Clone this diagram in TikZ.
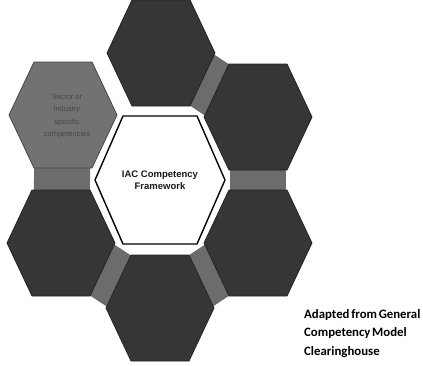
\documentclass[tikz,border=0pt]{standalone}
\usepackage{fontspec}
\setmainfont{Liberation Sans}
\newfontfamily\notefont[WordSpace={0.6}]{Carlito}
\usepackage{xcolor}
\definecolor{cHexDark}{HTML}{363636}
\definecolor{cHexEdge}{HTML}{242424}
\definecolor{cHexGrey}{HTML}{727272}
\definecolor{cBand}{HTML}{6C6C6C}
\definecolor{cFaint}{HTML}{474747}
\usepackage{tikz}
\usetikzlibrary{positioning}

\begin{document}
\begin{tikzpicture}[
    x=1pt, y=-1pt,
    darkhex/.style={fill=cHexDark, draw=cHexEdge, line width=0.8pt, line join=round},
    greyhex/.style={fill=cHexGrey, draw=cFaint, line width=0.8pt, line join=round},
    corehex/.style={fill=white, draw=black, line width=1.4pt, line join=round},
    band/.style={draw=cBand, line width=56pt},
    coretext/.style={align=center, inner sep=0pt, text=black!90,
                     font=\fontsize{9.5}{11.5}\selectfont\bfseries},
    hextext/.style={align=center, inner sep=0pt, text=cFaint,
                    font=\fontsize{7.5}{12.5}\selectfont},
    note/.style={align=left, inner sep=0pt, anchor=north west,
                 font=\notefont\fontsize{12.8}{18.5}\selectfont\bfseries}
]
\useasboundingbox (0,0) rectangle (423,365);

\coordinate (core) at (160,180);
\coordinate (hexTop) at (161,53);
\coordinate (hexTR) at (258,117);
\coordinate (hexBR) at (258,243);
\coordinate (hexBot) at (160,308);
\coordinate (hexBL) at (61,243);
\coordinate (hexTL) at (63,115);

\draw[band] (hexTop) -- (hexTR);
\draw[band] (hexTR) -- (hexBR);
\draw[band] (hexBR) -- (hexBot);
\draw[band] (hexBot) -- (hexBL);
\draw[band] (hexBL) -- (hexTL);

\foreach \c in {hexTop,hexTR,hexBR,hexBot,hexBL}
  \draw[darkhex, shift={(\c)}] (-54,0) -- (-29,-53) -- (29,-53) -- (54,0) -- (29,53) -- (-29,53) -- cycle;
\draw[greyhex, shift={(hexTL)}] (-54,0) -- (-29,-53) -- (29,-53) -- (54,0) -- (29,53) -- (-29,53) -- cycle;
\draw[corehex, shift={(core)}] (-65,0) -- (-37,-64) -- (37,-64) -- (65,0) -- (37,64) -- (-37,64) -- cycle;

\node[coretext] (coreLabel) at (core) {IAC Competency\\Framework};
\node[hextext] (tlLabel) at (67,116) {Sector or\\industry\\specific\\competencies};
\node[note] (source) at (304,309) {Adapted from General\\Competency Model\\Clearinghouse};
\end{tikzpicture}
\end{document}
